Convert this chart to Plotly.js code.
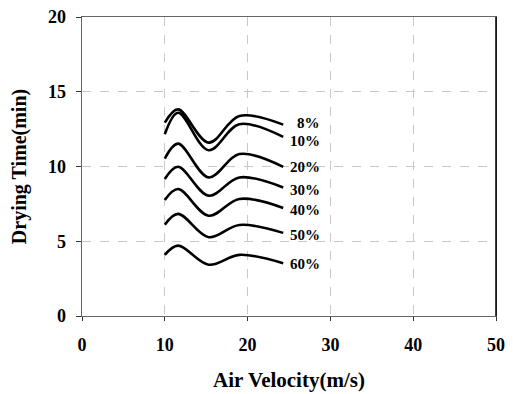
<!DOCTYPE html>
<html><head><meta charset="utf-8">
<script src="https://cdn.plot.ly/plotly-3.0.1.min.js"></script>
<style>html,body{margin:0;padding:0;background:#fff}#c{width:513px;height:394px}</style>
</head><body><div id="c"></div>
<script>
var velocity = [10, 11.6, 15.3, 19, 24.3];
var labels = ["8%", "10%", "20%", "30%", "40%", "50%", "60%"];
var t8  = [12.93, 13.82, 11.6, 13.38, 12.8];
var t10 = [12.16, 13.6, 11.09, 12.83, 11.98];
var t20 = [10.53, 11.53, 9.27, 10.83, 9.98];
var t30 = [9.16, 9.98, 8.05, 9.27, 8.6];
var t40 = [7.76, 8.49, 6.71, 7.83, 7.23];
var t50 = [6.11, 6.83, 5.27, 6.09, 5.56];
var t60 = [4.09, 4.71, 3.43, 4.09, 3.53];
var labelY = [12.88, 11.7, 9.95, 8.45, 7.1, 5.45, 3.45];
var labelX = 29;
var series = [t8, t10, t20, t30, t40, t50, t60];

var font = "'Liberation Serif', 'Times New Roman', serif";
var traces = series.map(function(s, i){
  return {x: velocity, y: s, type: 'scatter', mode: 'lines', name: labels[i],
    line: {color: '#000', width: 2.6, shape: 'spline', smoothing: 1}, hoverinfo: 'skip'};
});
var ann = labels.map(function(l, i){
  return {x: labelX, y: labelY[i], xref: 'x', yref: 'y', text: '<b>' + l + '</b>', showarrow: false,
    xanchor: 'right', yanchor: 'middle', font: {family: font, size: 15, color: '#000'}};
});
var layout = {
  width: 513, height: 394,
  margin: {l: 82, r: 17, t: 17, b: 78},
  paper_bgcolor: '#fff', plot_bgcolor: '#fff',
  showlegend: false,
  xaxis: {range: [0, 50], tickvals: [0,10,20,30,40,50], ticktext: ['<b>0</b>','<b>10</b>','<b>20</b>','<b>30</b>','<b>40</b>','<b>50</b>'],
    showline: true, linecolor: '#666', linewidth: 1.3, mirror: true,
    ticks: 'outside', ticklen: 4, tickcolor: '#333', ticklabelstandoff: 8,
    showgrid: true, gridcolor: '#c8c8c8', griddash: 'dash', gridwidth: 1, zeroline: false,
    tickfont: {family: font, size: 18, color: '#000'},
    title: {text: '<b>Air Velocity(m/s)</b>', font: {family: font, size: 21, color: '#000'}, standoff: 18}},
  yaxis: {range: [0, 20], tickvals: [0,5,10,15,20], ticktext: ['<b>0</b>','<b>5</b>','<b>10</b>','<b>15</b>','<b>20</b>'],
    showline: true, linecolor: '#666', linewidth: 1.3, mirror: true,
    ticks: 'outside', ticklen: 5, tickcolor: '#333', ticklabelstandoff: 6,
    showgrid: true, gridcolor: '#c8c8c8', griddash: 'dash', gridwidth: 1, zeroline: false,
    tickfont: {family: font, size: 18, color: '#000'},
    title: {text: '<b>Drying Time(min)</b>', font: {family: font, size: 20, color: '#000'}, standoff: 16}},
  shapes: [{type: 'line', xref: 'paper', yref: 'paper', x0: 1, x1: 1, y0: 0, y1: 1, line: {color: '#000', width: 1.5}}],
  annotations: ann
};
Plotly.newPlot('c', traces, layout, {displayModeBar: false, staticPlot: true});
</script></body></html>
